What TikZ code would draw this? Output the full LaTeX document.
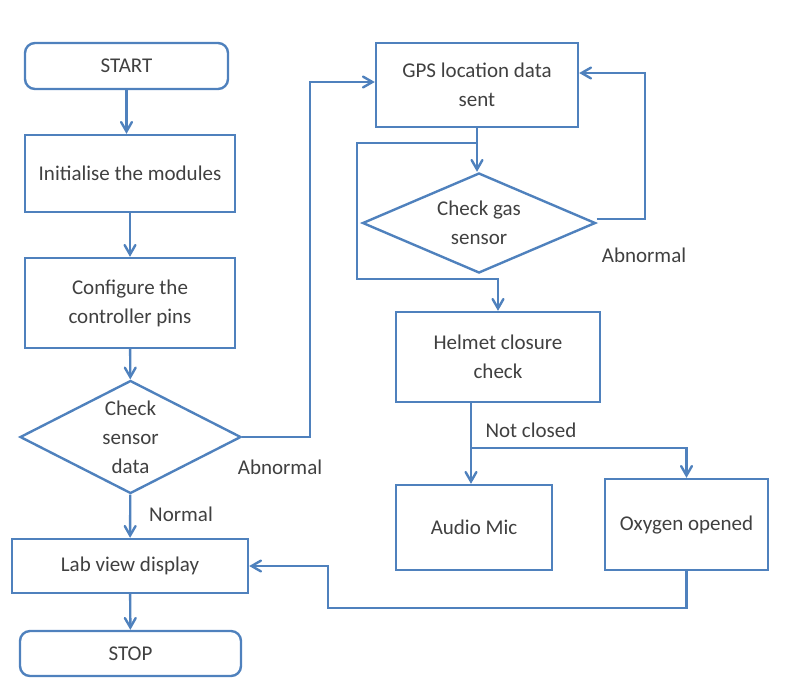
\documentclass[tikz,border=0pt]{standalone}
\usepackage{fontspec}
\setmainfont{Carlito}
\usepackage{tikz}
\usetikzlibrary{shapes.geometric, arrows}
\definecolor{lineblue}{RGB}{79,129,189}
\definecolor{textgray}{RGB}{64,64,64}
\tikzstyle{base}      = [draw=lineblue, line width=1.2pt, text=textgray, align=center, inner sep=0pt,
                         font=\fontsize{10.5}{14.5}\selectfont]
\tikzstyle{startstop} = [base, rectangle, rounded corners=5pt]
\tikzstyle{process}   = [base, rectangle]
\tikzstyle{decision}  = [base, diamond, aspect=2]
\tikzstyle{label}     = [text=textgray, font=\fontsize{10.5}{14.5}\selectfont]
\tikzstyle{arrow}     = [draw=lineblue, line width=1.2pt, ->, >=angle 60]
\tikzstyle{line}      = [draw=lineblue, line width=1.2pt]

\begin{document}
\begin{tikzpicture}[x=0.5pt, y=-0.5pt]
    \useasboundingbox (0,0) rectangle (786,677);

    % left column
    \node (start)   [startstop, minimum width=101.5pt, minimum height=23pt] at (126.5,66)  {START};
    \node (init)    [process, minimum width=105pt, minimum height=38.5pt]   at (130,173.5) {Initialise the modules};
    \node (config)  [process, minimum width=105pt, minimum height=45pt]     at (130,303)   {Configure the\\controller pins};
    \node (sensor)  [decision, minimum width=110.5pt, minimum height=56.5pt] at (130.5,437) {Check\\sensor\\data};
    \node (lab)     [process, minimum width=118pt, minimum height=27pt]     at (130,566)   {Lab view display};
    \node (stop)    [startstop, minimum width=110.5pt, minimum height=22.5pt] at (130.5,653.5) {STOP};

    % right column
    \node (gps)     [process, minimum width=101pt, minimum height=42pt]     at (477,85)    {GPS location data\\sent};
    \node (gas)     [decision, minimum width=116.5pt, minimum height=50pt]  at (479,223)   {Check gas\\sensor};
    \node (helmet)  [process, minimum width=102pt, minimum height=45pt]     at (498,357)   {Helmet closure\\check};
    \node (audio)   [process, minimum width=78pt, minimum height=42.5pt]    at (474,527.5) {Audio Mic};
    \node (oxygen)  [process, minimum width=81.5pt, minimum height=45.5pt]  at (686.5,524.5) {Oxygen opened};

    % labels
    \node (abnleft)  [label] at (280,467) {Abnormal};
    \node (normal)   [label] at (181,514) {Normal};
    \node (abnright) [label] at (644,255) {Abnormal};
    \node (notclose) [label] at (531,430) {Not closed};

    \coordinate (split)  at (477,143);
    \coordinate (bypass) at (357,279);
    \coordinate (branch) at (471,448);
    \coordinate (return) at (328,608);

    \draw [arrow] (start) -- (start |- init.north);
    \draw [arrow] (init) -- (config);
    \draw [arrow] (config) -- (sensor);
    \draw [arrow] (sensor) -- (lab);
    \draw [arrow] (lab) -- (stop);

    \draw [arrow] (sensor.east) -- ++(68,0) |- ([yshift=1.5pt]gps.west);
    \draw [arrow] (gps.south) -- (gps.south |- gas.north);
    \draw [arrow] ([yshift=2pt]gas.east) -- ++(48,0) |- ([yshift=6pt]gps.east);
    \draw [arrow] (split) -| (bypass) -| (helmet.north);
    \draw [line]  (helmet.south -| branch) -- (branch);
    \draw [arrow] (branch) -- (branch |- audio.north);
    \draw [arrow] (branch) -| (oxygen.north);
    \draw [arrow] (oxygen.south) |- (return) |- (lab.east);

\end{tikzpicture}
\end{document}
